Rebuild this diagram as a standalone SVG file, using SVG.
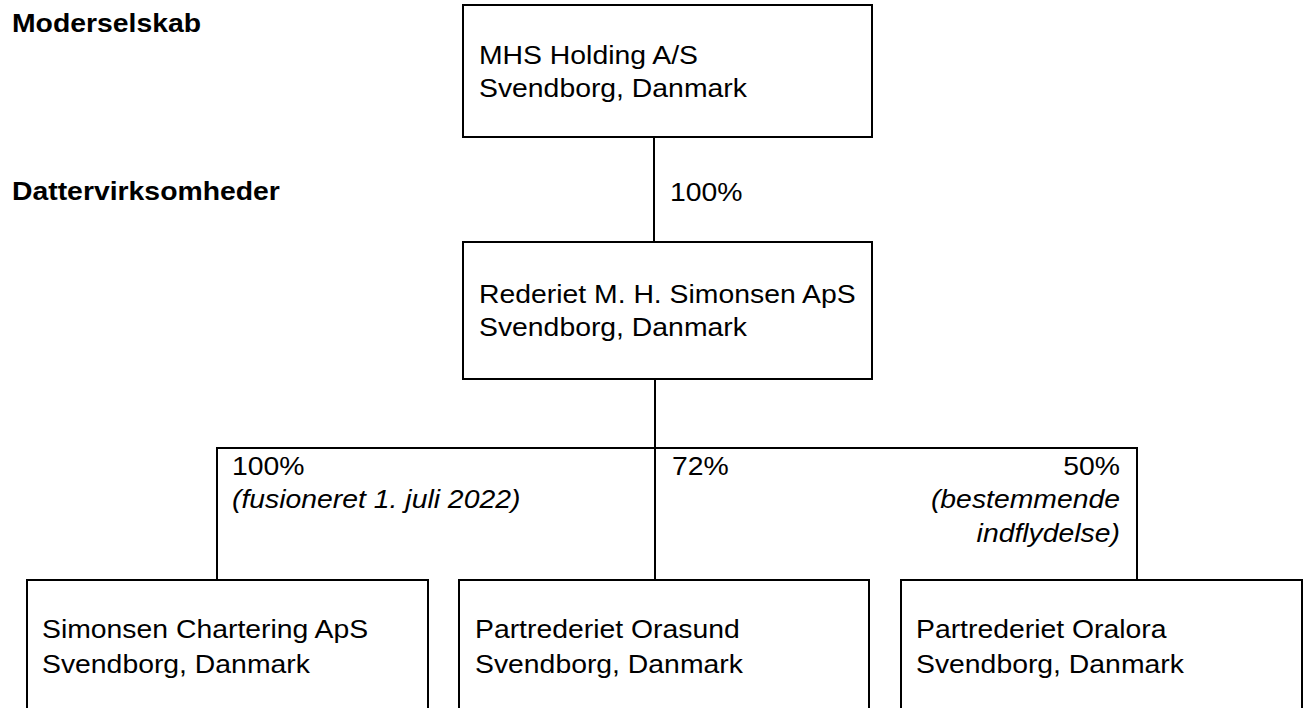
<svg xmlns="http://www.w3.org/2000/svg" width="1304" height="708" viewBox="0 0 1304 708">
<style>
text{font-family:"Liberation Sans",Arial,sans-serif;font-size:26.5px;fill:#000}
.h{font-weight:bold}
.i{font-style:italic}
.r{text-anchor:end}
.box{fill:#fff;stroke:#000;stroke-width:2}
.ln{stroke:#000;stroke-width:2;fill:none}
</style>
<rect width="1304" height="708" fill="#fff"/>
<g id="headings">
<text class="h" transform="translate(12 32) scale(1.07 1)">Moderselskab</text>
<text class="h" transform="translate(12 200) scale(1.07 1)">Dattervirksomheder</text>
</g>
<g id="connectors">
<line class="ln" x1="654" y1="137" x2="654" y2="242"/>
<line class="ln" x1="655" y1="379" x2="655" y2="580"/>
<polyline class="ln" points="217,580 217,448 1137,448 1137,580"/>
<text transform="translate(670 201) scale(1.07 1)">100%</text>
<text transform="translate(232 475) scale(1.07 1)">100%</text>
<text class="i" transform="translate(232 508) scale(1.07 1)">(fusioneret 1. juli 2022)</text>
<text transform="translate(672 475) scale(1.07 1)">72%</text>
<text class="r" transform="translate(1120 475) scale(1.07 1)">50%</text>
<text class="r i" transform="translate(1120 508) scale(1.07 1)">(bestemmende</text>
<text class="r i" transform="translate(1120 542) scale(1.07 1)">indflydelse)</text>
</g>
<g id="mhs">
<rect class="box" x="463" y="5" width="409" height="132"/>
<text transform="translate(479 64) scale(1.07 1)">MHS Holding A/S</text>
<text transform="translate(479 97) scale(1.07 1)">Svendborg, Danmark</text>
</g>
<g id="rederiet">
<rect class="box" x="463" y="242" width="409" height="137"/>
<text transform="translate(479 303) scale(1.07 1)">Rederiet M. H. Simonsen ApS</text>
<text transform="translate(479 336) scale(1.07 1)">Svendborg, Danmark</text>
</g>
<g id="chartering">
<rect class="box" x="27" y="580" width="401" height="140"/>
<text transform="translate(42 638) scale(1.07 1)">Simonsen Chartering ApS</text>
<text transform="translate(42 673) scale(1.07 1)">Svendborg, Danmark</text>
</g>
<g id="orasund">
<rect class="box" x="459" y="580" width="410" height="140"/>
<text transform="translate(475 638) scale(1.07 1)">Partrederiet Orasund</text>
<text transform="translate(475 673) scale(1.07 1)">Svendborg, Danmark</text>
</g>
<g id="oralora">
<rect class="box" x="901" y="580" width="401" height="140"/>
<text transform="translate(916 638) scale(1.07 1)">Partrederiet Oralora</text>
<text transform="translate(916 673) scale(1.07 1)">Svendborg, Danmark</text>
</g>
</svg>
